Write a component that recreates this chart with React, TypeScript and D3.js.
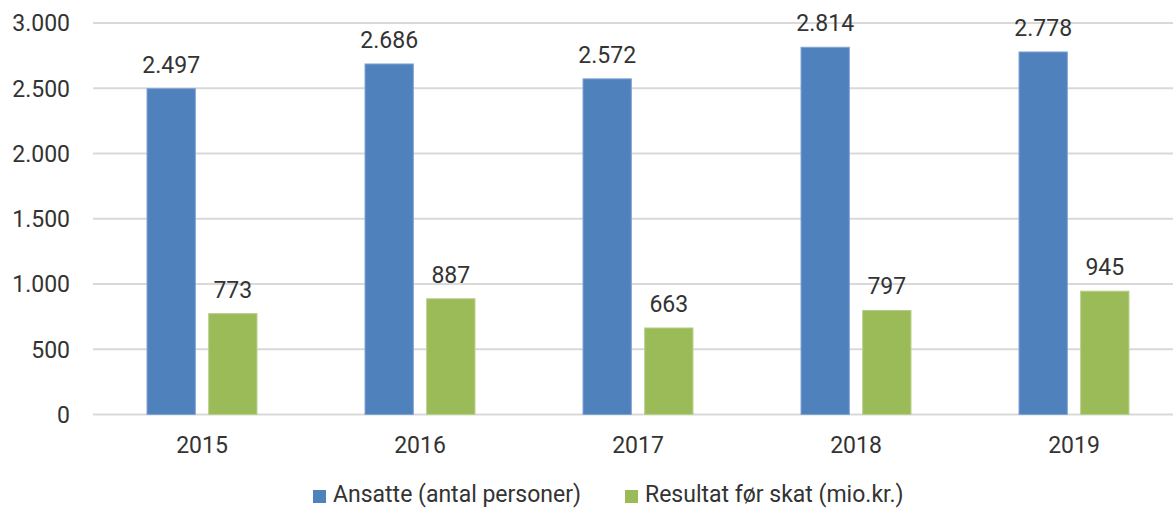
import React from "react";
import * as d3 from "d3";

const years = ["2015", "2016", "2017", "2018", "2019"];
const series = ["Ansatte (antal personer)", "Resultat før skat (mio.kr.)"];
const ansatte = [2497, 2686, 2572, 2814, 2778];
const resultat = [773, 887, 663, 797, 945];
const yTicks = [0, 500, 1000, 1500, 2000, 2500, 3000];
const colors = ["#4F81BD", "#9BBB59"];
const strokes = ["#7FA3D3", "#B7D08A"];

const W = 1173;
const H = 508;

const locale = d3.formatLocale({ decimal: ",", thousands: ".", grouping: [3], currency: ["", " kr"] });
const fmt = locale.format(",d");

export default function App() {
  const y = d3.scaleLinear().domain([0, 3000]).range([414.5, 23]);
  const x0 = d3.scaleBand<string>().domain(years).range([93, 1183]).paddingInner(0.491).paddingOuter(0.2455);
  const x1 = d3.scaleBand<string>().domain(series).range([0, x0.bandwidth()]).paddingInner(0.2);
  const valuesBySeries = [ansatte, resultat];
  const font = "Roboto, 'Noto Sans', sans-serif";
  const textColor = "#333333";

  return (
    <svg width={W} height={H} style={{ position: "absolute", left: 0, top: 0, background: "#fff" }} fontFamily={font}>
      <rect x={0} y={0} width={W} height={H} fill="#ffffff" />
      {yTicks.map((t) => (
        <g key={t}>
          <line x1={93} x2={W} y1={y(t)} y2={y(t)} stroke="#D9D9D9" strokeWidth={2} />
          <text x={70} y={y(t)} dy="0.36em" textAnchor="end" fontSize={23} fill={textColor}>
            {fmt(t)}
          </text>
        </g>
      ))}
      {years.map((yr, i) => (
        <g key={yr} transform={`translate(${x0(yr)},0)`}>
          {series.map((s, si) => {
            const v = valuesBySeries[si][i];
            const bx = x1(s)!;
            const bw = x1.bandwidth();
            return (
              <g key={s}>
                <rect
                  x={bx + 0.5}
                  y={y(v)}
                  width={bw - 1}
                  height={y(0) - y(v)}
                  fill={colors[si]}
                  stroke={strokes[si]}
                  strokeWidth={1}
                />
                <text x={bx + bw / 2} y={y(v) - 16} textAnchor="middle" fontSize={23} fill={textColor}>
                  {fmt(v)}
                </text>
              </g>
            );
          })}
          <text x={x0.bandwidth() / 2} y={453} textAnchor="middle" fontSize={23} fill={textColor}>
            {yr}
          </text>
        </g>
      ))}
      {series.map((s, si) => {
        const lx = si === 0 ? 313 : 625;
        return (
          <g key={s}>
            <rect x={lx} y={490} width={13} height={13} fill={colors[si]} />
            <text x={lx + 20} y={502} fontSize={23} fill={textColor}>
              {s}
            </text>
          </g>
        );
      })}
    </svg>
  );
}
